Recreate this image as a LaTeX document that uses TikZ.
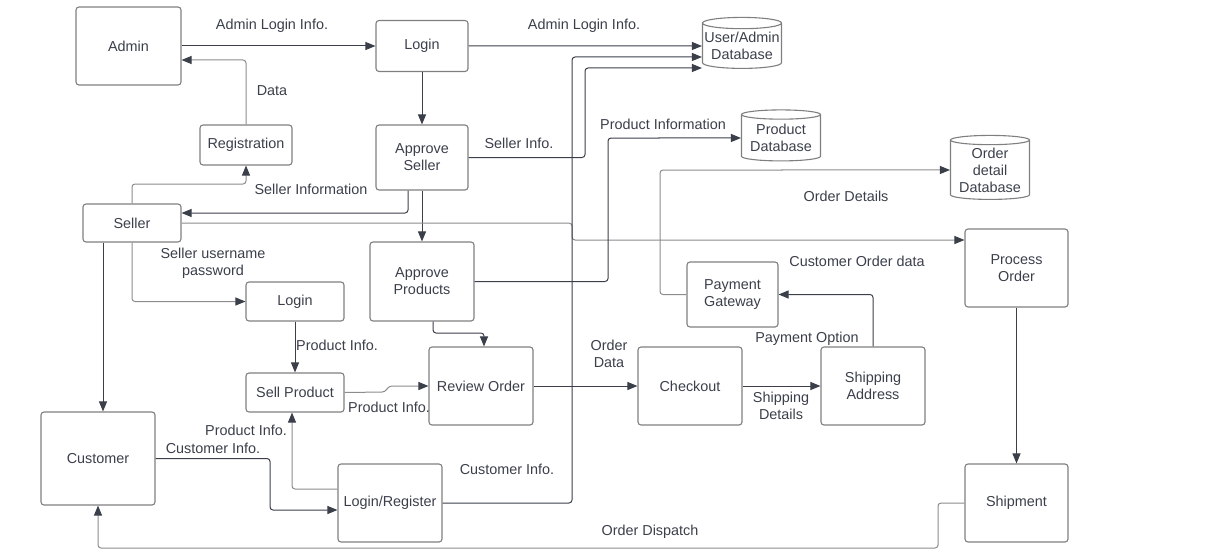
\documentclass[tikz,border=0pt]{standalone}
\usepackage{fontspec}
\setmainfont{Liberation Sans}
\usetikzlibrary{arrows.meta,shapes.geometric}
\definecolor{ink}{HTML}{3A3F4A}
\definecolor{rim}{HTML}{7F7F7F}
\definecolor{soft}{HTML}{8C8C8C}
\tikzset{
  sz/.style 2 args={minimum width=#1*0.5pt,minimum height=#2*0.5pt},
  box/.style={draw=rim,line width=0.55pt,rounded corners=1.5pt,align=center,inner sep=0pt,text=ink},
  db/.style={cylinder,shape border rotate=90,aspect=0.15,draw=rim,line width=0.55pt,align=center,inner sep=0pt,text=ink},
  flow/.style={draw=ink,line width=0.5pt,rounded corners=1.5pt,-{Triangle[length=5pt,width=4pt]}},
  flowl/.style={flow,draw=soft,-{Triangle[length=5pt,width=4pt,color=ink]}}
}
\begin{document}
\begin{tikzpicture}[x=0.5pt,y=-0.5pt,font=\fontsize{7.2}{8.5}\selectfont]
\useasboundingbox (0,0) rectangle (1218,556);
\begin{scope}[every node/.style={box}]
  \node[sz={105}{78}] (admin) at (128.5,46) {Admin};
  \node[sz={92}{51}] (login) at (422,46) {Login};
  \node[sz={92}{40}] (reg) at (246,145) {Registration};
  \node[sz={92}{65}] (aseller) at (422,157.5) {Approve\\Seller};
  \node[sz={98}{38}] (seller) at (132,223) {Seller};
  \node[sz={104}{79}] (aprod) at (422,281.5) {Approve\\Products};
  \node[sz={98}{39}] (login2) at (295,301.5) {Login};
  \node[sz={98}{39}] (sell) at (295,392.5) {Sell Product};
  \node[sz={104}{78}] (review) at (481,386) {Review Order};
  \node[sz={104}{78}] (checkout) at (690,386) {Checkout};
  \node[sz={104}{78}] (ship) at (873,386) {Shipping\\Address};
  \node[sz={91}{65}] (pay) at (732.5,294.5) {Payment\\Gateway};
  \node[sz={103}{78}] (process) at (1016.5,268) {Process\\Order};
  \node[sz={103}{78}] (shipment) at (1016.5,503) {Shipment};
  \node[sz={114}{93}] (customer) at (98,458.5) {Customer};
  \node[sz={104}{78}] (logreg) at (390,503) {Login/Register};
\end{scope}

\begin{scope}[every node/.style={db}]
  \node[sz={79}{51}] (udb) at (742,46) {User/Admin\\Database};
  \node[sz={79}{51}] (pdb) at (781,138) {Product\\Database};
  \node[sz={79}{64}] (odb) at (990,170) {Order\\detail\\Database};
\end{scope}

% bend points
\coordinate (c1) at (246,60);
\coordinate (c2) at (246,184);
\coordinate (c3) at (408,213);
\coordinate (c4) at (585,68);
\coordinate (c5) at (572,240);
\coordinate (c6) at (572,57);
\coordinate (c7) at (608,138);
\coordinate (c8) at (660,170);
\coordinate (c9) at (938,548);
\coordinate (c10) at (385,392);
\coordinate (c11) at (389,386);
\coordinate (c12) at (433,333);
\coordinate (c13) at (484,333);
\coordinate (c14) at (103,0);
\coordinate (c15) at (270,510);
\coordinate (c16) at (292,489);

\draw[flow] (admin.east) -- (login.west);
\draw[flow] (login.east) -- (udb.west);
\draw[flowl] (reg.north) -- (c1) -- (c1 -| admin.east);
\draw[flowl] (seller.north) |- (c2) -- (reg.south);
\draw[flow] (login.south) -- (aseller.north);
\draw[flow] (c3 |- aseller.south) -- (c3) -- (c3 -| seller.east);
\draw[flow] (aseller.south) -- (aprod.north);
\draw[flow] (aseller.east) -| (c4) -- (c4 -| udb.west);
\draw[flowl] (seller.east) -| (c5) -- (c5 -| process.west);
\draw[flow] (logreg.east) -| (c6) -- (c6 -| udb.west);
\draw[flow] (aprod.east) -| (c7) -- (pdb.west);
\draw[flowl] (pay.west) -| (c8) -- (odb.west);
\draw[flow] (process.south) -- (shipment.north);
\draw[flowl] (shipment.west) -| (c9) -| (customer.south);
\draw[flow] (ship.north) |- (pay.east);
\draw[flow] (checkout.east) -- (ship.west);
\draw[flow] (review.east) -- (checkout.west);
\draw[flowl] (sell.east) -- (c10) -- (c11) -- (review.west);
\draw[flow] (c12 |- aprod.south) -- (c12) -- (c13) -- (c13 |- review.north);
\draw[flowl] (seller.south) |- (login2.west);
\draw[flow] (c14 |- seller.south) -- (c14 |- customer.north);
\draw[flow] (login2.south) -- (sell.north);
\draw[flow] (customer.east) -| (c15) -- (c15 -| logreg.west);
\draw[flowl] (c16 -| logreg.west) -- (c16) -- (c16 |- sell.south);

\begin{scope}[every node/.style={text=ink,align=center,inner sep=0pt}]
  \node (l1) at (272,26) {Admin Login Info.};
  \node (l2) at (584,26) {Admin Login Info.};
  \node (l3) at (272,91) {Data};
  \node (l4) at (311,189) {Seller Information};
  \node (l5) at (519,143) {Seller Info.};
  \node (l6) at (663,124) {Product Information};
  \node (l7) at (846,196) {Order Details};
  \node (l8) at (857,261) {Customer Order data};
  \node (l9) at (213,263) {Seller username\\password};
  \node (l10) at (337,345) {Product Info.};
  \node (l11) at (389,407) {Product Info.};
  \node (l12) at (246,430) {Product Info.};
  \node (l13) at (213,448) {Customer Info.};
  \node (l14) at (507,469) {Customer Info.};
  \node (l15) at (609,353.5) {Order\\Data};
  \node (l16) at (807,339) {Payment Option};
  \node (l17) at (781,405.5) {Shipping\\Details};
  \node (l18) at (650,532) {Order Dispatch};
\end{scope}
\end{tikzpicture}
\end{document}
